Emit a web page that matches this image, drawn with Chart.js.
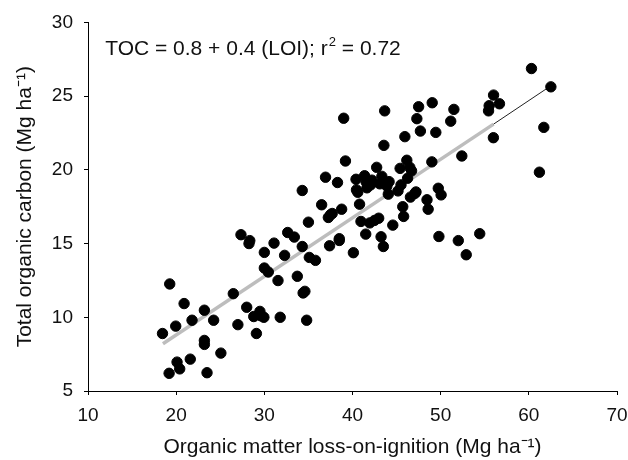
<!DOCTYPE html>
<html>
<head>
<meta charset="utf-8">
<script src="https://cdn.jsdelivr.net/npm/chart.js@4"></script>
<style>
  html, body { margin: 0; padding: 0; background: #fff; }
  #wrap { width: 628px; height: 460px; }
</style>
</head>
<body>
<div id="wrap"><canvas id="chart" width="628" height="460"></canvas></div>
<script>
// Valores (LOI x TOC)
const loi = [
  18.45, 19.27, 19.95, 19.2, 20.1, 20.4, 20.9, 21.6, 21.8, 23.2,
  23.2, 23.2, 23.5, 24.25, 25.07, 26.48, 27.0, 27.35, 28.0, 28.26,
  28.35, 28.8, 29.1, 29.5, 29.6, 29.95, 30.0, 30.0, 30.45, 31.1,
  31.55, 31.8, 32.3, 32.65, 33.4, 33.74, 34.3, 34.3, 34.4, 34.6,
  34.8, 35.0, 35.1, 35.8, 36.5, 36.94, 37.26, 37.5, 37.7, 37.4,
  38.3, 38.5, 38.5, 38.77, 39.0, 39.2, 40.1, 40.4, 40.45, 40.6,
  40.8, 40.96, 41.37, 41.5, 41.55, 41.64, 41.96, 42.05, 42.2, 42.5,
  42.74, 42.97, 43.1, 43.24, 43.33, 43.5, 43.56, 43.65, 43.9, 44.06,
  44.15, 44.57, 45.16, 45.4, 45.5, 45.7, 45.8, 45.94, 46.16, 46.25,
  46.5, 46.57, 46.7, 47.08, 47.2, 47.3, 47.5, 47.7, 48.45, 48.58,
  49.0, 49.04, 49.45, 49.73, 50.05, 49.8, 51.14, 51.5, 52.0, 52.4,
  52.9, 54.43, 55.43, 55.5, 55.98, 56.0, 56.67, 60.3, 61.2, 61.7,
  62.5
]
const toc = [
  8.9, 12.26, 9.4, 6.2, 6.96, 6.5, 10.93, 7.16, 9.8, 10.48,
  8.43, 8.16, 6.24, 9.8, 7.57, 11.6, 9.5, 15.6, 10.68, 15.0,
  15.2, 10.05, 8.9, 10.4, 10.1, 10.0, 14.4, 13.34, 13.07, 15.03,
  12.49, 10.0, 14.2, 15.75, 15.44, 12.78, 14.8, 18.6, 11.65, 11.76,
  9.8, 16.45, 14.06, 13.86, 17.63, 19.5, 16.77, 16.95, 17.04, 14.85,
  19.14, 15.33, 15.21, 17.33, 23.5, 20.6, 14.38, 19.36, 18.64, 18.48,
  17.67, 16.5, 19.6, 15.64, 19.18, 18.78, 16.4, 18.98, 19.3, 16.57,
  20.17, 16.72, 19.05, 15.46, 19.56, 14.8, 21.66, 24.0, 18.9, 18.35,
  19.2, 16.25, 18.57, 20.1, 18.98, 17.5, 16.84, 22.25, 20.65, 19.43,
  20.17, 18.15, 19.93, 18.4, 18.5, 23.47, 24.28, 22.63, 17.97, 17.33,
  20.54, 24.55, 22.54, 18.75, 18.3, 15.48, 23.3, 24.1, 15.2, 20.94,
  14.24, 15.67, 24.0, 24.35, 22.18, 25.07, 24.48, 26.87, 19.84, 22.88,
  25.63
]

// Linha de regressão (extremos)
const fitGrayX = [18.5, 56.0]
const fitGrayY = [8.2, 23.1]
const fitBlackX = [56.0, 62.5]
const fitBlackY = [23.1, 25.7]

const xTicks = [10, 20, 30, 40, 50, 60, 70]
const yTicks = [5, 10, 15, 20, 25, 30]

const equationText = "TOC = 0.8 + 0.4 (LOI); r"
const equationSup = "2"
const equationTail = " = 0.72"

const FONT = "'Liberation Sans', Arial, Helvetica, sans-serif"

function toPoints(xs, ys) {
  return xs.map((x, i) => ({ x: x, y: ys[i] }))
}

// Plugin para escrever a equação com expoente
const equationPlugin = {
  id: "equation",
  afterDatasetsDraw(chart) {
    const ctx = chart.ctx
    const xs = chart.scales.x
    const ys = chart.scales.y
    const px = xs.getPixelForValue(11.95)
    const py = ys.getPixelForValue(27.8)
    ctx.save()
    ctx.fillStyle = "#111"
    ctx.textBaseline = "alphabetic"
    ctx.font = "21px " + FONT
    ctx.fillText(equationText, px, py)
    let w = ctx.measureText(equationText).width
    ctx.font = "13px " + FONT
    ctx.fillText(equationSup, px + w + 1, py - 9)
    const w2 = ctx.measureText(equationSup).width
    ctx.font = "21px " + FONT
    ctx.fillText(equationTail, px + w + w2 + 1, py)
    ctx.restore()
  },
}

const ctx = document.getElementById("chart").getContext("2d")
new Chart(ctx, {
  type: "scatter",
  data: {
    datasets: [
      {
        label: "fit",
        type: "line",
        data: toPoints(fitGrayX, fitGrayY),
        borderColor: "#bdbdbd",
        borderWidth: 3.5,
        pointRadius: 0,
        fill: false,
        order: 3,
      },
      {
        label: "fit2",
        type: "line",
        data: toPoints(fitBlackX, fitBlackY),
        borderColor: "#222",
        borderWidth: 1,
        pointRadius: 0,
        fill: false,
        order: 2,
      },
      {
        label: "TOC",
        data: toPoints(loi, toc),
        backgroundColor: "#000",
        borderColor: "#000",
        pointRadius: 5.2,
        pointHoverRadius: 5.2,
        order: 1,
      },
    ],
  },
  options: {
    responsive: false,
    animation: false,
    layout: { padding: { top: 22, right: 11, left: 0, bottom: 0 } },
    plugins: {
      legend: { display: false },
      tooltip: { enabled: false },
    },
    scales: {
      x: {
        type: "linear",
        min: 10,
        max: 70,
        afterBuildTicks: (scale) => {
          scale.ticks = xTicks.map((v) => ({ value: v }))
        },
        afterFit: (scale) => {
          scale.height = 69
          scale.paddingRight = 0
          scale.paddingLeft = 0
        },
        grid: {
          drawOnChartArea: false,
          drawTicks: true,
          tickLength: 4,
          color: "#000",
        },
        border: { color: "#000", width: 1 },
        ticks: {
          color: "#111",
          padding: 9,
          font: { family: FONT, size: 19 },
        },
        title: {
          display: true,
          text: "Organic matter loss-on-ignition (Mg ha\u207B\u00B9)",
          color: "#111",
          font: { family: FONT, size: 21 },
          padding: { top: 4, bottom: 0 },
        },
      },
      y: {
        type: "linear",
        min: 5,
        max: 30,
        afterBuildTicks: (scale) => {
          scale.ticks = yTicks.map((v) => ({ value: v }))
        },
        afterFit: (scale) => {
          scale.width = 88
        },
        grid: {
          drawOnChartArea: false,
          drawTicks: true,
          tickLength: 4,
          color: "#000",
        },
        border: { color: "#000", width: 1 },
        ticks: {
          color: "#111",
          padding: 11,
          font: { family: FONT, size: 19 },
        },
        title: {
          display: true,
          text: "Total organic carbon (Mg ha\u207B\u00B9)",
          color: "#111",
          font: { family: FONT, size: 21 },
          padding: { top: 13, bottom: 0 },
        },
      },
    },
  },
  plugins: [equationPlugin],
})
</script>
</body>
</html>
